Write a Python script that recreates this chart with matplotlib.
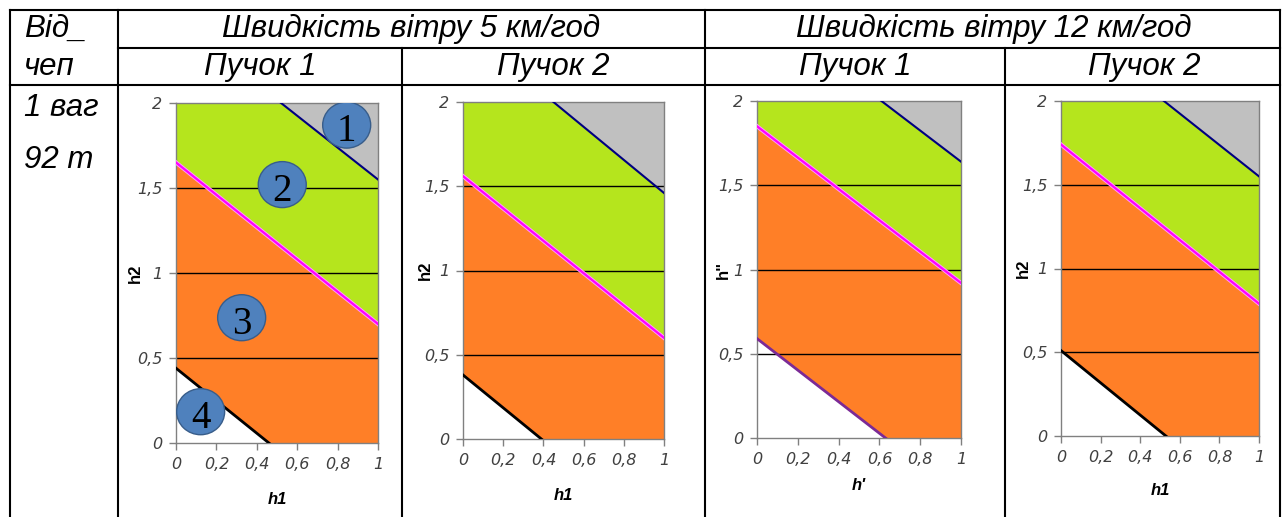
import numpy as np
import matplotlib
matplotlib.use("Agg")
import matplotlib.pyplot as plt
from matplotlib.lines import Line2D
from matplotlib.patches import Ellipse

W, H = 1288, 517

# заголовки таблиці
wind_titles = ["Швидкість вітру 5 км/год", "Швидкість вітру 12 км/год"]
beam_titles = ["Пучок 1", "Пучок 2", "Пучок 1", "Пучок 2"]
row_head = ["Від_", "чеп"]
row_label = ["1 ваг", "92 т"]

x_labels = ["h1", "h1", "h'", "h1"]
y_labels = ["h2", "h2", 'h"', "h2"]
xtick_vals = [0, 0.2, 0.4, 0.6, 0.8, 1]
xtick_text = ["0", "0,2", "0,4", "0,6", "0,8", "1"]
ytick_vals = [0, 0.5, 1, 1.5, 2]
ytick_text = ["0", "0,5", "1", "1,5", "2"]

# межі зон: (h1, h2) двох точок на кожній прямій
blue_lines = [[(0.52, 2.0), (1.0, 1.55)],
              [(0.45, 2.0), (1.0, 1.46)],
              [(0.61, 2.0), (1.0, 1.64)],
              [(0.52, 2.0), (1.0, 1.55)]]
pink_lines = [[(0.0, 1.65), (1.0, 0.70)],
              [(0.0, 1.56), (1.0, 0.60)],
              [(0.0, 1.85), (1.0, 0.92)],
              [(0.0, 1.74), (1.0, 0.79)]]
low_lines = [[(0.0, 0.44), (0.46, 0.0)],
             [(0.0, 0.38), (0.39, 0.0)],
             [(0.0, 0.59), (0.63, 0.0)],
             [(0.0, 0.51), (0.53, 0.0)]]
low_colors = ["black", "black", "#7B2A96", "black"]

# номери зон на першому графіку
zone_nums = ["1", "2", "3", "4"]
zone_x = [0.845, 0.526, 0.325, 0.122]
zone_y = [1.87, 1.52, 0.737, 0.184]

# положення графіків у пікселях (ліво, верх, право, низ)
panel_px = [(176, 103, 378, 443), (463, 102, 664, 439),
            (757, 101, 961, 438), (1061, 101, 1259, 436)]
xlabel_gap = [49, 49, 40, 47]
ylabel_gap = [33, 30, 26, 30]

GRAY = "#C0C0C0"
GREEN = "#B5E51D"
ORANGE = "#FF7F27"
FONT = "Liberation Sans"


def line_y(pts, x):
    (x0, y0), (x1, y1) = pts
    k = (y1 - y0) / (x1 - x0)
    return y0 + k * (x - x0)


fig = plt.figure(figsize=(W / 100, H / 100), dpi=100)


def hline(y, x0, x1):
    fig.add_artist(Line2D([x0 / W, x1 / W], [1 - y / H, 1 - y / H],
                          transform=fig.transFigure, color="black", lw=1.5))


def vline(x, y0, y1):
    fig.add_artist(Line2D([x / W, x / W], [1 - y0 / H, 1 - y1 / H],
                          transform=fig.transFigure, color="black", lw=1.5))


# сітка таблиці
hline(10, 10, 1280)
hline(48, 118, 1280)
hline(85, 10, 1280)
for xx in [10, 118, 705, 1280]:
    vline(xx, 10, 517)
for xx in [402, 1005]:
    vline(xx, 48, 517)


def ftext(x, y, s, ha="center"):
    fig.text(x / W, 1 - y / H, s, ha=ha, va="center", fontsize=22.5,
             style="italic", family=FONT)


ftext(24, 29, row_head[0], ha="left")
ftext(24, 67, row_head[1], ha="left")
ftext(24, 108, row_label[0], ha="left")
ftext(24, 160, row_label[1], ha="left")
ftext(411, 29, wind_titles[0])
ftext(994, 29, wind_titles[1])
for cx, t in zip([260, 553, 855, 1144], beam_titles):
    ftext(cx, 67, t)

x = np.linspace(0, 1, 201)
for i in range(4):
    l, t, r, b = panel_px[i]
    ax = fig.add_axes([l / W, 1 - b / H, (r - l) / W, (b - t) / H])
    yb = line_y(blue_lines[i], x)
    yp = line_y(pink_lines[i], x)
    yl = line_y(low_lines[i], x)
    ax.fill_between(x, yb, 2.5, color=GRAY, lw=0)
    ax.fill_between(x, yp, np.minimum(yb, 2.5), color=GREEN, lw=0)
    ax.fill_between(x, yl, yp, color=ORANGE, lw=0)
    for g in [0.5, 1.0, 1.5]:
        ax.axhline(g, color="black", lw=1, zorder=2)
    ax.plot(x, yb, color="#000080", lw=1.5, zorder=3)
    ax.plot(x, yp, color="#FF9CFF", lw=3, zorder=3)
    ax.plot(x, yp, color="#FF00FF", lw=1.6, zorder=3)
    ax.plot(x, yl, color=low_colors[i], lw=2, zorder=3)
    ax.set_xlim(0, 1)
    ax.set_ylim(0, 2)
    ax.set_xticks(xtick_vals)
    ax.set_xticklabels(xtick_text, fontsize=11.5, style="oblique",
                       family="DejaVu Sans", color="#404040")
    ax.set_yticks(ytick_vals)
    ax.set_yticklabels(ytick_text, fontsize=11.5, style="oblique",
                       family="DejaVu Sans", color="#404040")
    for sp in ax.spines.values():
        sp.set_color("#808080")
        sp.set_linewidth(1)
    ax.tick_params(direction="out", length=5, width=1, color="#808080", pad=5)
    ax.set_xlabel(x_labels[i], fontsize=12, fontweight="bold", style="italic", family=FONT)
    ax.set_ylabel(y_labels[i], fontsize=12, fontweight="bold", family=FONT)
    ax.xaxis.set_label_coords(0.5, -xlabel_gap[i] / (b - t))
    ax.yaxis.set_label_coords(-ylabel_gap[i] / (r - l), 0.5)

    if i == 0:
        for n, zx, zy in zip(zone_nums, zone_x, zone_y):
            e = Ellipse((zx, zy), 48 / (r - l), 2 * 46 / (b - t),
                        facecolor="#4F81BD", edgecolor="#385D8A", lw=1, zorder=5)
            ax.add_patch(e)
            tx = ax.text(zx, zy - 0.04, n, ha="center", va="center", fontsize=28,
                         family="Liberation Serif", zorder=6)
            tx.set_clip_path(e)

fig.savefig("out.png", dpi=100)
